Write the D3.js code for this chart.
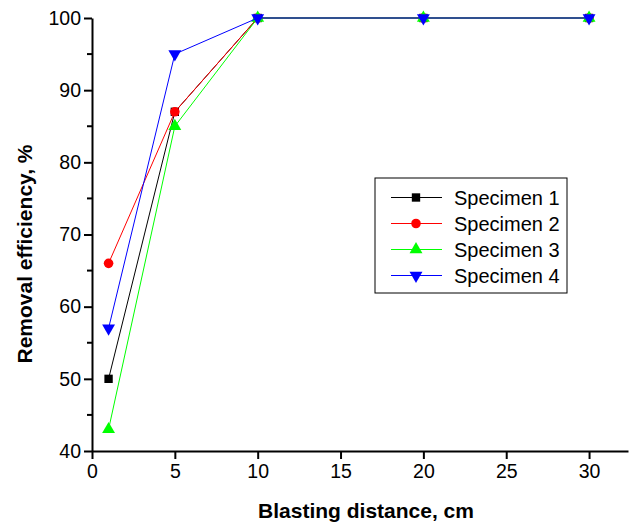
<!DOCTYPE html>
<html>
<head>
<meta charset="utf-8">
<script src="https://cdn.jsdelivr.net/npm/d3@7"></script>
<style>
  body { margin: 0; background: #fff; }
  svg text { font-family: "Liberation Sans", Arial, sans-serif; }
</style>
</head>
<body>
<div id="chart"></div>
<script>
// blasting distance (cm)
const distances = [1, 5, 10, 20, 30];
const seriesNames = ["Specimen 1", "Specimen 2", "Specimen 3", "Specimen 4"];
const specimen1 = [50, 87, 100, 100, 100];
const specimen2 = [66, 87, 100, 100, 100];
const specimen3 = [43, 85, 100, 100, 100];
const specimen4 = [57, 95, 100, 100, 100];
const xTicks = [0, 5, 10, 15, 20, 25, 30];
const yTicks = [40, 50, 60, 70, 80, 90, 100];

const colours = ["#000000", "#ff0000", "#00ff00", "#0000ff"];
const symbols = [d3.symbolSquare, d3.symbolCircle, d3.symbolTriangle, d3.symbolTriangle];
const allSeries = [specimen1, specimen2, specimen3, specimen4];

var width = 629, height = 527;
var plotLeft = 92, plotRight = 628, plotTop = 18, plotBottom = 451;

var svg = d3.select("#chart").append("svg")
    .attr("width", width)
    .attr("height", height);

var x = d3.scaleLinear().domain([0, 32.35]).range([plotLeft, plotRight]);
var y = d3.scaleLinear().domain([40, 100]).range([plotBottom, plotTop]);

// axes
var xAxis = svg.append("g")
    .attr("transform", "translate(0," + plotBottom + ")")
    .call(d3.axisBottom(x).tickValues(xTicks).tickSize(8).tickPadding(5).tickSizeOuter(0));
var yAxis = svg.append("g")
    .attr("transform", "translate(" + plotLeft + ",0)")
    .call(d3.axisLeft(y).tickValues(yTicks).tickSize(8).tickPadding(3).tickSizeOuter(0));

// minor y ticks
svg.append("g")
    .attr("transform", "translate(" + plotLeft + ",0)")
    .selectAll("line")
    .data(yTicks.slice(0, -1).map(d => d + 5))
    .enter().append("line")
    .attr("x1", -5).attr("x2", 0)
    .attr("y1", d => y(d)).attr("y2", d => y(d))
    .attr("stroke", "#000").attr("stroke-width", 2);

[xAxis, yAxis].forEach(function(g) {
    g.select(".domain").attr("stroke-width", 2);
    g.selectAll(".tick line").attr("stroke-width", 2);
    g.selectAll(".tick text")
        .style("font-family", "'Liberation Sans', Arial, sans-serif")
        .style("font-size", "19.5px")
        .attr("fill", "#000");
});

// axis titles
svg.append("text")
    .attr("x", 366).attr("y", 518)
    .attr("text-anchor", "middle")
    .style("font-size", "21px").style("font-weight", "bold")
    .text("Blasting distance, cm");
svg.append("text")
    .attr("transform", "translate(32,254) rotate(-90)")
    .attr("text-anchor", "middle")
    .style("font-size", "21px").style("font-weight", "bold")
    .text("Removal efficiency, %");

var line = d3.line()
    .x((d, i) => x(distances[i]))
    .y(d => y(d));

function marker(i) {
    var size = i == 1 ? 72 : (i == 0 ? 70 : 72);
    return d3.symbol().type(symbols[i]).size(size)();
}

allSeries.forEach(function(vals, i) {
    svg.append("path")
        .attr("d", line(vals))
        .attr("fill", "none")
        .attr("stroke", colours[i])
        .attr("stroke-width", 1);
    svg.selectAll(".m" + i)
        .data(vals)
        .enter().append("path")
        .attr("class", "m" + i)
        .attr("d", marker(i))
        .attr("transform", (d, j) => "translate(" + x(distances[j]) + "," + y(d) + ")" + (i == 3 ? " rotate(180)" : ""))
        .attr("fill", colours[i]);
});

// legend
var lg = svg.append("g").attr("transform", "translate(375,178)");
lg.append("rect")
    .attr("width", 192).attr("height", 115)
    .attr("fill", "#fff").attr("stroke", "#000").attr("stroke-width", 1);
seriesNames.forEach(function(name, i) {
    var ry = 19.5 + i * 26;
    lg.append("line")
        .attr("x1", 16).attr("x2", 67)
        .attr("y1", ry).attr("y2", ry)
        .attr("stroke", colours[i]).attr("stroke-width", 1);
    lg.append("path")
        .attr("d", marker(i))
        .attr("transform", "translate(41," + ry + ")" + (i == 3 ? " rotate(180)" : ""))
        .attr("fill", colours[i]);
    lg.append("text")
        .attr("x", 79).attr("y", ry + 7)
        .style("font-size", "20px")
        .text(name);
});
</script>
</body>
</html>
